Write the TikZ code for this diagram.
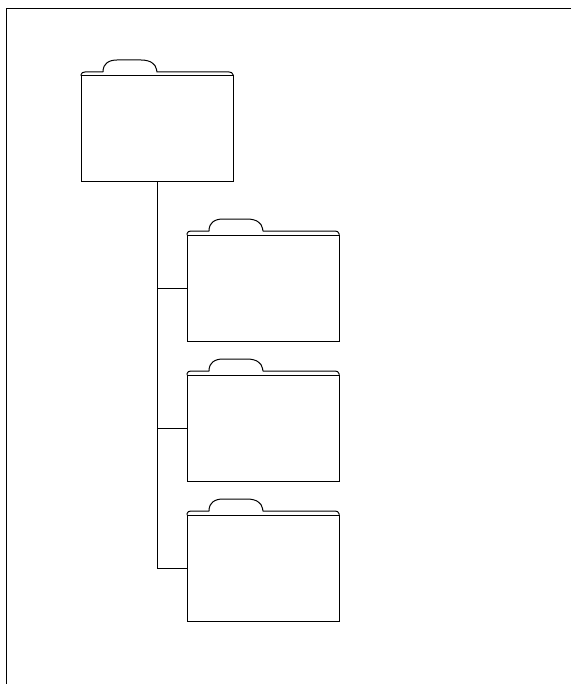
\documentclass[tikz,border=0pt]{standalone}
\tikzset{
  x=1pt,y=-1pt,
  ln/.style={line width=0.75pt,draw=black},
  folderbody/.style={ln,rectangle,inner sep=0pt,outer sep=0pt,minimum width=114pt,minimum height=79.5pt}
}
% name, body centre x, body centre y (all in pt; 1 px = 0.75 pt)
\newcommand{\folderbox}[3]{%
  \node[folderbody] (#1) at (#2,#3) {};
  \begin{scope}[shift={(#1.north west)}]
  \draw[ln,line join=round] (0,0) -- (0,-1) .. controls (0.2,-2.4) and (1.5,-3) .. (3,-3)
     -- (16.5,-3) -- (16.5,-4.5) .. controls (17,-8.5) and (20,-12) .. (27,-12)
     -- (45,-12) .. controls (52,-12) and (56,-9) .. (56.6,-5) -- (57,-3)
     -- (111,-3) .. controls (112.5,-3) and (113.8,-2.4) .. (114,-1) -- (114,0);
  \end{scope}
}
\begin{document}
\begin{tikzpicture}[x=1pt,y=-1pt]
\useasboundingbox (0,0) rectangle (428.25,513);
\coordinate (ftl) at (4.6,6.2);
\coordinate (ftr) at (428.25,6.2);
\coordinate (fbl) at (4.6,513);
\draw[ln] (ftr) -- (ftl) -- (fbl);
\folderbox{f1}{117.75}{96.75}
\folderbox{f2}{197.25}{216}
\folderbox{f3}{197.25}{321}
\folderbox{f4}{197.25}{426}
\draw[ln] (f1.south) |- (f4.west);
\draw[ln] (f1.south |- f2.west) -- (f2.west);
\draw[ln] (f1.south |- f3.west) -- (f3.west);
\end{tikzpicture}
\end{document}
